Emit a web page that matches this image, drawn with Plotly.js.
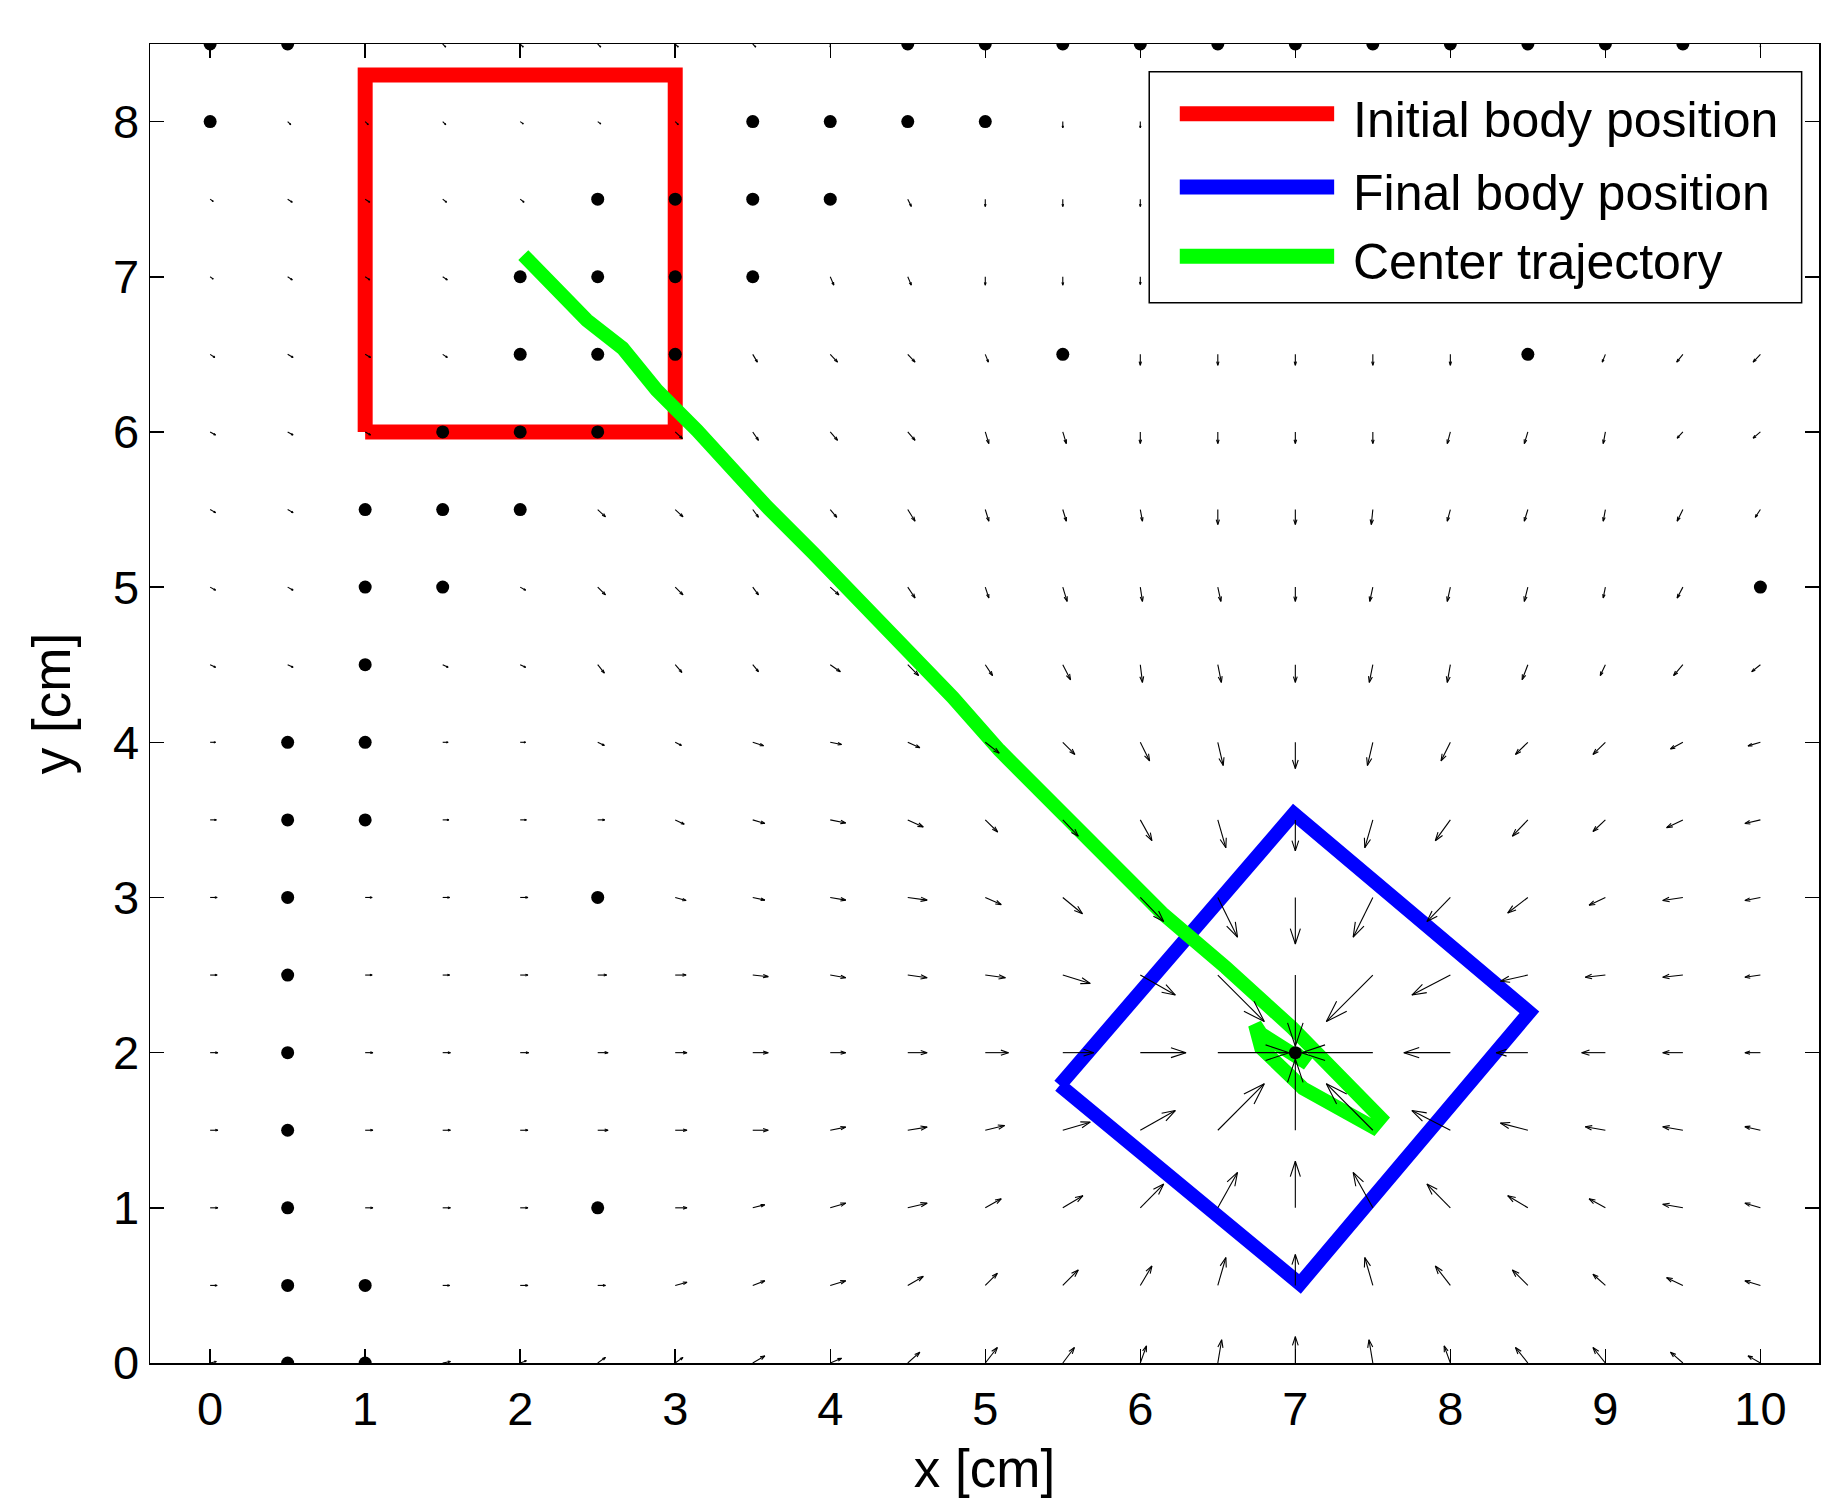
<!DOCTYPE html>
<html>
<head>
<meta charset="utf-8">
<script src="https://cdn.plot.ly/plotly-3.0.1.min.js"></script>
<style>html,body{margin:0;padding:0;background:#fff;}</style>
</head>
<body>
<div id="chart" style="width:1823px;height:1498px;"></div>
<script>
// ---- grid of the vector field ----
const xGrid = [0,0.5,1,1.5,2,2.5,3,3.5,4,4.5,5,5.5,6,6.5,7,7.5,8,8.5,9,9.5,10];
const yGrid = [0,0.5,1,1.5,2,2.5,3,3.5,4,4.5,5,5.5,6,6.5,7,7.5,8,8.5];

// U (x component) per row, row index = yGrid index; null = hidden under legend
const U = [
 [0.04,0,0,0.05,0.04,0.05,0.05,0.078,0.073,0.078,0.078,0.075,0.04,0.025,0,-0.025,-0.04,-0.08,-0.08,-0.08,-0.08],
 [0.045,0,0,0.045,0.05,0.05,0.076,0.078,0.1,0.1,0.078,0.1,0.075,0.052,0,-0.052,-0.097,-0.1,-0.08,-0.105,-0.1],
 [0.05,0,0.05,0.05,0.05,0,0.076,0.078,0.1,0.125,0.103,0.13,0.151,0.127,0,-0.127,-0.151,-0.13,-0.105,-0.13,-0.1],
 [0.05,0,0.05,0.05,0.05,0.067,0.076,0.1,0.1,0.125,0.125,0.177,0.226,0.3,0,-0.3,-0.248,-0.177,-0.13,-0.13,-0.1],
 [0.05,0,0.05,0.05,0.055,0.067,0.076,0.1,0.1,0.125,0.15,0.2,0.295,0.46,0,-0.46,-0.3,-0.205,-0.153,-0.13,-0.1],
 [0.045,0,0.045,0.045,0.05,0.058,0.07,0.1,0.1,0.125,0.13,0.177,0.226,0.3,0,-0.3,-0.248,-0.177,-0.13,-0.13,-0.1],
 [0.045,0,0.045,0.045,0.05,0,0.07,0.078,0.1,0.125,0.103,0.127,0.151,0.127,0,-0.127,-0.151,-0.13,-0.105,-0.13,-0.1],
 [0.04,0,0,0.04,0.04,0.045,0.058,0.078,0.1,0.1,0.08,0.1,0.075,0.052,0,-0.052,-0.097,-0.1,-0.08,-0.105,-0.1],
 [0.035,0,0,0.035,0.035,0.043,0.04,0.07,0.073,0.078,0.09,0.078,0.06,0.035,0,-0.035,-0.06,-0.08,-0.08,-0.08,-0.08],
 [0.035,0.035,0,0.035,0.035,0.043,0.043,0.037,0.065,0.07,0.047,0.05,0.014,0.023,0,-0.023,-0.02,-0.037,-0.033,-0.06,-0.056],
 [0.035,0.035,0,0,0.035,0.05,0.05,0.037,0.056,0.047,0.023,0.028,0.014,0.02,0,-0.02,-0.02,-0.023,-0.014,-0.037,0],
 [0.035,0.035,0,0,0,0.05,0.05,0.037,0.042,0.047,0.023,0.023,0.014,0,0,-0.01,-0.02,-0.023,-0.014,-0.037,-0.033],
 [0.035,0.035,0.035,0,0,0,0.046,0.037,0.047,0.047,0.023,0.023,0,0,0,0,-0.02,-0.023,-0.014,-0.037,-0.047],
 [0.03,0.035,0.035,0.03,0,0,0,0.03,0.047,0.047,0.02,0,0,0,0,0,0,0,-0.02,-0.04,-0.047],
 [0.02,0.03,0.03,0.03,0,0,0,0,0.023,0.023,0,0,0,null,null,null,null,null,null,null,null],
 [0.02,0.03,0.03,0.025,0.025,0,0,0,0,0.023,0,0,0,null,null,null,null,null,null,null,null],
 [0,0.02,0.02,0.02,0.02,0.02,0.02,0,0,0,0,0,0,null,null,null,null,null,null,null,null],
 [0,0,0,0.02,0.02,0.02,0.02,0.02,0,0,0,0,0,0,0,0,0,0,0,0,0]
];
// V (y component) per row
const V = [
 [0.01,0,0,0.01,0.015,0.036,0.036,0.046,0.03,0.07,0.1,0.1,0.11,0.15,0.17,0.15,0.11,0.1,0.1,0.07,0.046],
 [0,0,0,0,0,0,0.02,0.03,0.03,0.058,0.078,0.1,0.125,0.18,0.2,0.18,0.125,0.1,0.072,0.05,0.03],
 [0,0,0,0,0,0,0,0.02,0.03,0.03,0.058,0.078,0.153,0.228,0.3,0.228,0.153,0.078,0.058,0.023,0.03],
 [0,0,0,0,0,0,0,0,0.02,0.02,0.03,0.052,0.127,0.3,0.46,0.3,0.127,0.046,0.023,0.023,0.023],
 [0,0,0,0,0,0,0,0,0,0,0,0,0,0,0,0,0,0,0,0,0],
 [0,0,0,0,0,0,0,-0.01,-0.017,-0.017,-0.017,-0.054,-0.129,-0.3,-0.46,-0.3,-0.129,-0.04,-0.014,-0.014,-0.014],
 [0,0,0,0,0,0,-0.02,-0.017,-0.017,-0.017,-0.046,-0.105,-0.155,-0.256,-0.3,-0.256,-0.155,-0.1,-0.05,-0.02,-0.02],
 [0,0,0,0,0,0,-0.028,-0.023,-0.02,-0.046,-0.078,-0.105,-0.134,-0.18,-0.2,-0.18,-0.134,-0.105,-0.075,-0.05,-0.023],
 [0,0,0,0,0,-0.02,-0.02,-0.022,-0.014,-0.035,-0.07,-0.078,-0.12,-0.15,-0.17,-0.15,-0.12,-0.078,-0.078,-0.043,-0.023],
 [-0.017,-0.017,0,-0.017,-0.017,-0.054,-0.05,-0.045,-0.045,-0.07,-0.07,-0.097,-0.114,-0.114,-0.114,-0.114,-0.114,-0.097,-0.07,-0.07,-0.045],
 [-0.02,-0.02,0,0,-0.02,-0.05,-0.05,-0.05,-0.05,-0.07,-0.07,-0.092,-0.092,-0.092,-0.092,-0.092,-0.092,-0.092,-0.07,-0.07,0],
 [-0.02,-0.02,0,0,0,-0.047,-0.047,-0.05,-0.05,-0.075,-0.075,-0.075,-0.075,-0.097,-0.097,-0.097,-0.075,-0.075,-0.075,-0.075,-0.05],
 [-0.02,-0.02,-0.02,0,0,0,-0.043,-0.054,-0.054,-0.054,-0.075,-0.075,-0.075,-0.075,-0.075,-0.075,-0.075,-0.075,-0.075,-0.04,-0.04],
 [-0.02,-0.02,-0.02,-0.02,0,0,0,-0.05,-0.05,-0.05,-0.05,0,-0.07,-0.07,-0.07,-0.07,-0.07,0,-0.05,-0.05,-0.05],
 [-0.015,-0.02,-0.02,-0.02,0,0,0,0,-0.054,-0.054,-0.054,-0.054,-0.05,null,null,null,null,null,null,null,null],
 [-0.015,-0.02,-0.02,-0.02,-0.02,0,0,0,0,-0.047,-0.047,-0.047,-0.047,null,null,null,null,null,null,null,null],
 [0,-0.02,-0.02,-0.02,-0.015,-0.015,-0.02,0,0,0,0,-0.04,-0.04,null,null,null,null,null,null,null,null],
 [0,0,-0.02,-0.02,-0.02,-0.02,-0.02,-0.02,-0.02,0,0,0,0,0,0,0,0,0,0,0,-0.02]
];

// grid points drawn as solid blobs (near-zero vectors)
const blobX = [0.5,1, 0.5,1, 0.5,2.5, 0.5, 0.5,7, 0.5, 0.5,2.5, 0.5,1, 0.5,1, 1, 1,1.5,10, 1,1.5,2, 1.5,2,2.5,
               2,2.5,3,5.5,8.5, 2,2.5,3,3.5, 2.5,3,3.5,4, 0,3.5,4,4.5,5,
               0,0.5,4.5,5,5.5,6,6.5,7,7.5,8,8.5,9,9.5];
const blobY = [0,0, 0.5,0.5, 1,1, 1.5, 2,2, 2.5, 3,3, 3.5,3.5, 4,4, 4.5, 5,5,5, 5.5,5.5,5.5, 6,6,6,
               6.5,6.5,6.5,6.5,6.5, 7,7,7,7, 7.5,7.5,7.5,7.5, 8,8,8,8,8,
               8.5,8.5,8.5,8.5,8.5,8.5,8.5,8.5,8.5,8.5,8.5,8.5,8.5];

// bodies and trajectory
const initBodyX = [1,1,3,3,1];
const initBodyY = [6,8.3,8.3,6,6];
const finalBodyX = [5.48,6.99,8.51,7.03,5.48];
const finalBodyY = [1.79,3.54,2.26,0.51,1.79];
const trajX = [2.02,2.24,2.43,2.66,2.88,3.14,3.37,3.59,3.89,4.19,4.49,4.79,5.09,5.39,5.69,6.14,6.55,6.98,7.55,7.50,7.05,6.78,6.74,6.78,7.08,7.00];
const trajY = [7.14,6.93,6.72,6.54,6.27,6.01,5.75,5.52,5.22,4.92,4.59,4.29,3.95,3.65,3.35,2.90,2.55,2.16,1.58,1.52,1.77,2.03,2.18,2.12,1.93,2.00];

const xTicks = [0,1,2,3,4,5,6,7,8,9,10];
const yTicks = [0,1,2,3,4,5,6,7,8];
const legendNames = ['Initial body position','Final body position','Center trajectory'];
const legendColors = ['#ff0000','#0000ff','#00ff00'];

// ---- quiver arrows (MATLAB style heads) ----
const qx = [], qy = [];
const alpha = 0.33, beta = 0.33;
for (let j = 0; j < yGrid.length; j++) {
  for (let i = 0; i < xGrid.length; i++) {
    const u = U[j][i], v = V[j][i];
    if (u === null || v === null || (u === 0 && v === 0)) continue;
    const x0 = xGrid[i], y0 = yGrid[j], x1 = x0 + u, y1 = y0 + v;
    qx.push(x0, x1, null); qy.push(y0, y1, null);
    qx.push(x1 - alpha*(u + beta*v), x1, x1 - alpha*(u - beta*v), null);
    qy.push(y1 - alpha*(v - beta*u), y1, y1 - alpha*(v + beta*u), null);
  }
}

const FONT = '"Liberation Sans", Arial, Helvetica, sans-serif';

const traces = [
  {x: initBodyX, y: initBodyY, mode: 'lines', name: legendNames[0], showlegend: false,
   line: {color: legendColors[0], width: 15}, hoverinfo: 'skip'},
  {x: finalBodyX, y: finalBodyY, mode: 'lines', name: legendNames[1], showlegend: false,
   line: {color: legendColors[1], width: 14}, hoverinfo: 'skip'},
  {x: trajX, y: trajY, mode: 'lines', name: legendNames[2], showlegend: false,
   line: {color: legendColors[2], width: 14}, hoverinfo: 'skip'},
  {x: qx, y: qy, mode: 'lines', showlegend: false, connectgaps: false, name: 'field',
   line: {color: '#000000', width: 1.1}, hoverinfo: 'skip'},
  {x: blobX, y: blobY, mode: 'markers', showlegend: false, name: 'zero',
   marker: {color: '#000000', size: 13, symbol: 'circle'}, hoverinfo: 'skip'}
];

// ---- legend box drawn as shapes + text (paper coordinates) ----
const legBox = {x0: 0.5987, x1: 0.9896, y0: 0.8039, y1: 0.979};
const legRowY = [0.9472, 0.8916, 0.8391];
const shapes = [{type: 'rect', xref: 'paper', yref: 'paper', x0: legBox.x0, x1: legBox.x1, y0: legBox.y0, y1: legBox.y1,
                 fillcolor: '#ffffff', line: {color: '#000000', width: 1.5}, layer: 'above'}];
const annotations = [];
legendNames.forEach((name, k) => {
  shapes.push({type: 'line', xref: 'paper', yref: 'paper', x0: 0.6170, x1: 0.7095, y0: legRowY[k], y1: legRowY[k],
               line: {color: legendColors[k], width: 15}, layer: 'above'});
  annotations.push({xref: 'paper', yref: 'paper', x: 0.7196, y: legRowY[k] - 0.0045, xanchor: 'left', yanchor: 'middle',
                    text: name, showarrow: false, font: {family: FONT, size: 50, color: '#000'}});
});

const axisCommon = {
  showgrid: false, zeroline: false, showline: true, linecolor: '#000', linewidth: 1.5,
  mirror: 'ticks', ticks: 'inside', ticklen: 14, tickwidth: 1.5, tickcolor: '#000',
  tickfont: {family: FONT, size: 47, color: '#000'}
};

const layout = {
  width: 1823, height: 1498,
  margin: {l: 150, r: 4, t: 44, b: 135, pad: 0},
  paper_bgcolor: '#ffffff', plot_bgcolor: '#ffffff',
  font: {family: FONT, size: 46, color: '#000'},
  showlegend: false,
  xaxis: Object.assign({}, axisCommon, {
    range: [-0.388, 10.378], tickmode: 'array', tickvals: xTicks, ticktext: xTicks.map(String),
    ticklabelstandoff: 4,
    title: {text: 'x [cm]', font: {family: FONT, size: 53, color: '#000'}, standoff: 20}
  }),
  yaxis: Object.assign({}, axisCommon, {
    range: [0, 8.5], tickmode: 'array', tickvals: yTicks, ticktext: yTicks.map(String),
    title: {text: 'y [cm]', font: {family: FONT, size: 53, color: '#000'}, standoff: 25}
  }),
  shapes: shapes,
  annotations: annotations
};

Plotly.newPlot('chart', traces, layout, {displayModeBar: false, staticPlot: true});
</script>
</body>
</html>
